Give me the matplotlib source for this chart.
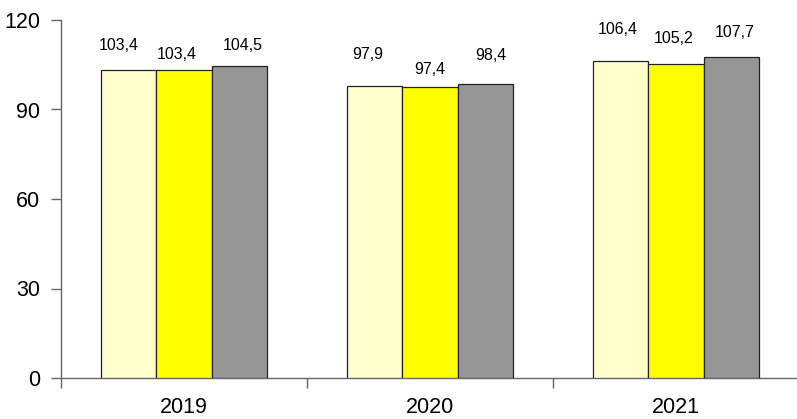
import matplotlib
matplotlib.use("Agg")
import matplotlib.pyplot as plt
import numpy as np

plt.rcParams['font.family'] = ['Liberation Sans', 'DejaVu Sans']

# ---- data ----
years = ["2019", "2020", "2021"]
series_a = [103.4, 97.9, 106.4]
series_b = [103.4, 97.4, 105.2]
series_c = [104.5, 98.4, 107.7]
y_ticks = [0, 30, 60, 90, 120]

# ---- styling ----
colors = ["#FFFFCC", "#FFFF00", "#969696"]
# manual label offsets in pixels (dx, dy above bar top), per series per year
label_dx = [[-10, -7, -3], [-7, 0, -2], [4, 6, 4]]
label_dy = [[24.5, 31, 31], [15.5, 18, 26], [21, 29, 24]]

W, H, DPI = 797, 419, 100
fig = plt.figure(figsize=(W / DPI, H / DPI), dpi=DPI)
ax = fig.add_axes([61 / W, 41 / H, 738 / W, 358 / H])

x = np.arange(len(years))
bw = 0.2236
axis_color = "#666666"
px2pt = 72 / DPI

for i, (vals, col) in enumerate(zip([series_a, series_b, series_c], colors)):
    pos = x + (i - 1) * bw
    ax.bar(pos, vals, width=bw, color=col, edgecolor="#222222", linewidth=0.9, zorder=3)
    for j, (p, v) in enumerate(zip(pos, vals)):
        ax.annotate(f"{v:.1f}".replace(".", ","), xy=(p, v),
                    xytext=(label_dx[i][j] * px2pt, label_dy[i][j] * px2pt),
                    textcoords="offset points", ha="center", va="center",
                    fontsize=11.5, color="black")

ax.set_xlim(-0.5, 2.5)
ax.set_ylim(0, 120)
ax.set_yticks(y_ticks)
ax.set_yticklabels([str(t) for t in y_ticks])
ax.set_xticks(x)
ax.set_xticklabels(years)
ax.set_xticks(np.arange(-0.5, 3.0, 1.0), minor=True)

for s in ["top", "right"]:
    ax.spines[s].set_visible(False)
for s in ["left", "bottom"]:
    ax.spines[s].set_color(axis_color)
    ax.spines[s].set_linewidth(1.0)

ax.tick_params(axis="y", which="major", direction="out", length=7, width=1.0,
               color=axis_color, labelsize=15.5, pad=8)
ax.tick_params(axis="x", which="major", length=0, labelsize=15.5, pad=14)
ax.tick_params(axis="x", which="minor", direction="out", length=7, width=1.0,
               color=axis_color)

fig.savefig("out.png", dpi=DPI)
